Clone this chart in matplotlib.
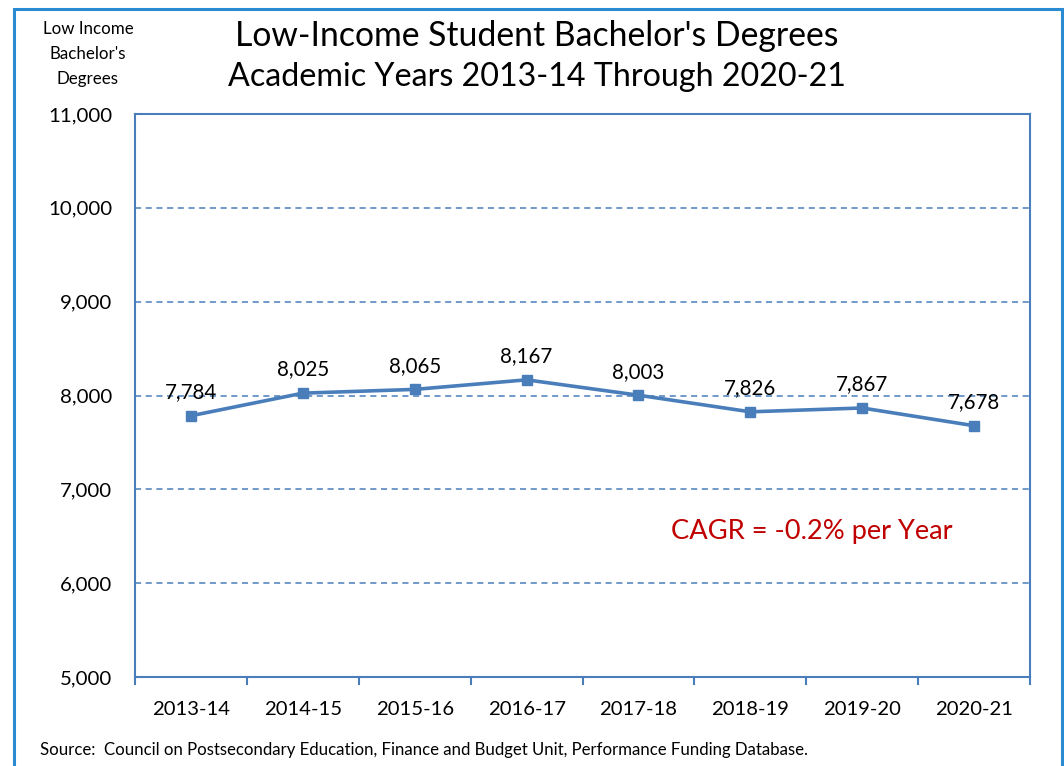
import matplotlib
matplotlib.use("Agg")
import matplotlib.pyplot as plt
from matplotlib.patches import Rectangle

years = ["2013-14", "2014-15", "2015-16", "2016-17", "2017-18", "2018-19", "2019-20", "2020-21"]
degrees = [7784, 8025, 8065, 8167, 8003, 7826, 7867, 7678]
yticks = [5000, 6000, 7000, 8000, 9000, 10000, 11000]

plt.rcParams['font.family'] = ['Lato', 'DejaVu Sans']

W, H = 1064, 766
fig = plt.figure(figsize=(W / 100, H / 100), dpi=100)
fig.patch.set_facecolor('white')

# outer frame
fig.add_artist(Rectangle((14 / W, -0.01), (1062 - 14) / W, 1 - 9 / H + 0.01,
                         transform=fig.transFigure, fill=False,
                         edgecolor='#2a8ad2', linewidth=2.2))

left, right, top, bottom = 135, 1030, 114, 677
ax = fig.add_axes([left / W, 1 - bottom / H, (right - left) / W, (bottom - top) / H])

axis_col = '#4a7ebb'
line_col = '#4a7ebb'
x = list(range(len(years)))
ax.plot(x, degrees, color=line_col, linewidth=2.6, marker='s', markersize=7.5,
        markerfacecolor=line_col, markeredgecolor=line_col, zorder=3)

for xi, v in zip(x, degrees):
    ax.annotate(f"{v:,}", (xi, v), xytext=(0, 17), textcoords='offset points',
                ha='center', va='center', fontsize=14.8, color='black', zorder=4)

ax.set_xlim(-0.5, len(years) - 0.5)
ax.set_ylim(yticks[0], yticks[-1])
ax.set_yticks(yticks)
ax.set_yticklabels([f"{t:,}" for t in yticks], fontsize=14.7)
ax.set_xticks(x)
ax.set_xticklabels(years, fontsize=14.6)
ax.set_xticks([i - 0.5 for i in range(len(years) + 1)], minor=True)
ax.tick_params(axis='x', which='major', length=0, pad=17)
ax.tick_params(axis='x', which='minor', length=6, color=axis_col, width=1.5, direction='out')
ax.tick_params(axis='y', which='major', length=0, pad=16.5)

for t in yticks[1:-1]:
    ax.axhline(t, color=axis_col, linestyle=(0, (4, 3)), linewidth=1.1, zorder=1)

for s in ax.spines.values():
    s.set_color(axis_col)
    s.set_linewidth(1.5)

fig.text(537 / W, 1 - 36 / H, "Low-Income Student Bachelor's Degrees", ha='center', va='center', fontsize=24.3)
fig.text(537 / W, 1 - 77 / H, "Academic Years 2013-14 Through 2020-21", ha='center', va='center', fontsize=23.2)

fig.text(88 / W, 1 - 54 / H, "Low Income\nBachelor's\nDegrees", ha='center', va='center',
         fontsize=12.2, linespacing=1.72)

fig.text(812 / W, 1 - 532 / H, "CAGR = -0.2% per Year", ha='center', va='center', fontsize=19.6, color='#c00000')

fig.text(40 / W, 1 - 750 / H, "Source:  Council on Postsecondary Education, Finance and Budget Unit, Performance Funding Database.",
         ha='left', va='center', fontsize=12.1)

fig.savefig("out.png", dpi=100)
